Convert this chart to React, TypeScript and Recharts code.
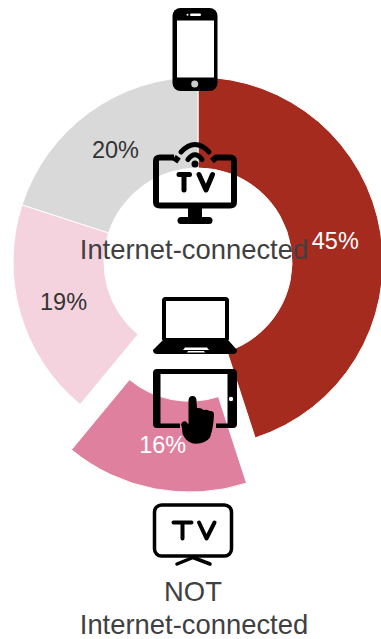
import { Pie, PieChart, Sector } from "recharts";

const categories = ["Smartphone", "Not connected TV", "Laptop", "Internet TV"];
const shares = [45, 16, 19, 20];
const sliceColors = ["#A62B1F", "#E0809F", "#F5D3DE", "#D9D9D9"];
const labelColors = ["#ffffff", "#ffffff", "#333333", "#333333"];
const pulledOut = ["Not connected TV"];

const data = categories.map((name, i) => ({ name, value: shares[i], fill: sliceColors[i] }));

const FONT = "'Liberation Sans', Arial, sans-serif";
const RAD = Math.PI / 180;
const PULL = 46;

// shifts a slice outwards along its middle angle when it is pulled out
const shift = (name: string, midAngle: number) => {
  if (!pulledOut.includes(name)) return { dx: 0, dy: 0 };
  return { dx: PULL * Math.cos(-midAngle * RAD), dy: PULL * Math.sin(-midAngle * RAD) };
};

const midOf = (p: any) => p.midAngle ?? (p.startAngle + p.endAngle) / 2;

const SliceShape = (props: any) => {
  const { dx, dy } = shift(props.name ?? props.payload?.name, midOf(props));
  return <Sector {...props} cx={props.cx + dx} cy={props.cy + dy} stroke="#fff" strokeWidth={1} />;
};

const renderLabel = (props: any) => {
  const { cx, cy, midAngle, innerRadius, outerRadius, index } = props;
  const { dx, dy } = shift(categories[index], midAngle);
  const r = (innerRadius + outerRadius) / 2;
  return (
    <text
      x={cx + dx + r * Math.cos(-midAngle * RAD) - 0.5}
      y={cy + dy + r * Math.sin(-midAngle * RAD) + 1}
      fill={labelColors[index]}
      fontFamily={FONT}
      fontSize={23.5}
      textAnchor="middle"
      dominantBaseline="central"
    >
      {shares[index]}%
    </text>
  );
};

const PhoneIcon = () => (
  <g>
    <rect x={172.5} y={8} width={45} height={83} rx={8} fill="#000" />
    <rect x={177} y={20.5} width={37} height={57} fill="#fff" />
    <rect x={190} y={13.5} width={11} height={2.5} rx={1.2} fill="#fff" />
    <circle cx={187.5} cy={14.7} r={1} fill="#fff" />
    <circle cx={194.7} cy={84} r={3.5} fill="#ccc" />
  </g>
);

const InternetTvIcon = () => (
  <g fill="none" stroke="#000">
    <path
      d="M174 157.500 H160 Q156 157.500 156 161 V202 Q156 205.500 160 205.500 H230 Q234 205.500 234 202 V161 Q234 157.500 230 157.500 H216 L212 161"
      strokeWidth={6}
    />
    <path d="M174 157.500 L179 161" strokeWidth={6} />
    <path d="M195 208 V218" strokeWidth={14} />
    <path d="M181 220.500 H209" strokeWidth={7} strokeLinecap="round" />
    <path d="M181 152 Q195 137 209 152" strokeWidth={5} strokeLinecap="round" />
    <path d="M188 159.500 Q195 150 202 159.500" strokeWidth={5} strokeLinecap="round" />
    <circle cx={195} cy={164} r={3.5} fill="#000" stroke="none" />
    <path d="M179 174.500 H189.500 M184 174.500 V190 M199 174.500 L206 190 L212.500 174.500" strokeWidth={5} strokeLinecap="round" strokeLinejoin="round" />
  </g>
);

const LaptopIcon = () => (
  <g>
    <rect x={164} y={299} width={63} height={41} rx={1.500} fill="none" stroke="#000" strokeWidth={4} />
    <path d="M162 341 H229 L237 350 Q237 354 233 354 H157 Q153 354 153 350 Z" fill="#000" />
    <path d="M185 347.500 H207 L209 350 H183 Z M188 351 H204 L205 352.500 H187 Z" fill="#fff" />
  </g>
);

const TabletIcon = () => (
  <g>
    <path
      d="M180 428 H157 Q153 428 153 424 V373 Q153 369 157 369 H233 Q237 369 237 373 V424 Q237 428 233 428 H216 V423.500 H227.500 V374 H160.500 V423.500 H180 Z"
      fill="#000"
    />
    <circle cx={231} cy={399} r={2.2} fill="#fff" />
    <path
      d="M188.500 401 Q188.500 396 192.500 396 Q196.500 396 196.500 401 L197 408 Q201.500 407.500 203.500 410 Q207.500 409 209.500 411 Q213.500 410.500 214 414 Q213.500 428 210 437.500 Q205 444.500 193 443.500 Q185.500 441.500 182.500 433.500 L182 428 L181 424.500 Q182.500 420.500 186 421.500 L188.500 424.500 Z"
      fill="#000"
    />
  </g>
);

const PlainTvIcon = () => (
  <g fill="none" stroke="#000" strokeWidth={3.500}>
    <rect x={154.500} y={505} width={77} height={51} rx={7} />
    <path d="M177 564 L193 557.500 L210 564" strokeLinecap="round" strokeLinejoin="round" />
    <path d="M173.500 522.500 H191.500 M182.500 522.500 V538.500 M199 522.500 L206.500 538.500 L214.500 522.500" strokeWidth={4} strokeLinecap="round" strokeLinejoin="round" />
  </g>
);

export default function App() {
  return (
    <div style={{ position: "absolute", left: 0, top: 0, width: 381, height: 639, background: "#fff" }}>
      <PieChart width={381} height={639} margin={{ top: 0, right: 0, bottom: 0, left: 0 }}>
        <Pie
          data={data}
          dataKey="value"
          nameKey="name"
          cx={198}
          cy={262}
          innerRadius={94}
          outerRadius={185}
          startAngle={90}
          endAngle={-270}
          paddingAngle={0}
          shape={SliceShape}
          label={renderLabel}
          labelLine={false}
          isAnimationActive={false}
        />
      </PieChart>
      <svg width={381} height={639} style={{ position: "absolute", left: 0, top: 0 }}>
        <PhoneIcon />
        <InternetTvIcon />
        <LaptopIcon />
        <TabletIcon />
        <PlainTvIcon />
        <g fontFamily={FONT} fontSize={27.4} fill="#404040" textAnchor="middle">
          <text x={194} y={258.5}>Internet-connected</text>
          <text x={193} y={601}>NOT</text>
          <text x={194} y={633.5}>Internet-connected</text>
        </g>
      </svg>
    </div>
  );
}
